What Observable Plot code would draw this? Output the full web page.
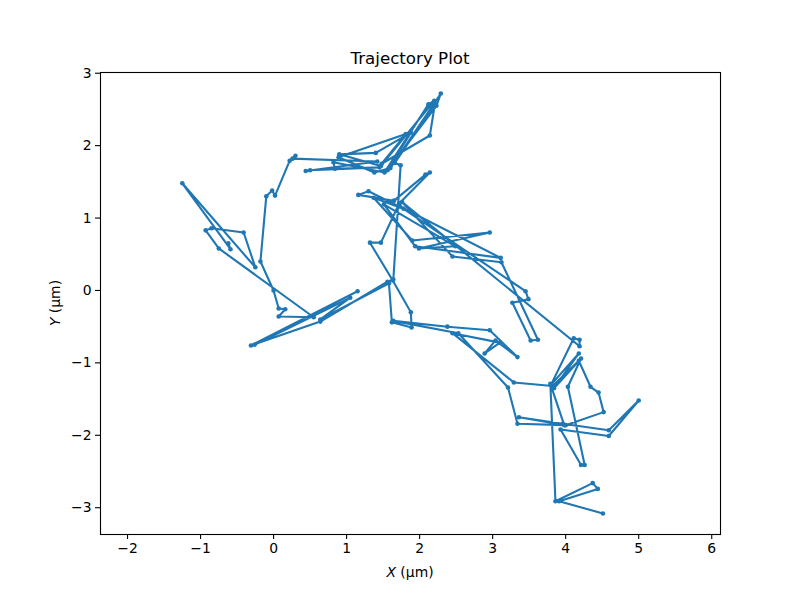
<!DOCTYPE html>
<html>
<head>
<meta charset="utf-8">
<script src="https://cdn.jsdelivr.net/npm/d3@7"></script>
<script src="https://cdn.jsdelivr.net/npm/@observablehq/plot@0.6"></script>
<style>
  body { margin: 0; background: white; }
  #chart { width: 800px; height: 600px; }
</style>
</head>
<body>
<div id="chart"></div>
<script>
const chartTitle = "Trajectory Plot";
const xLabelMain = "X";
const xLabelUnit = " (μm)";
const yLabelMain = "Y";
const yLabelUnit = " (μm)";
const xTicks = [-2, -1, 0, 1, 2, 3, 4, 5, 6];
const yTicks = [-3, -2, -1, 0, 1, 2, 3];

const trajX = [
  -0.62, -0.59, -1.25, -0.25, -0.41, -0.85, -0.93, -0.75, 0.55, 0.07,
  0.16, 0.07, 0.00, -0.18, -0.10, -0.02, 0.02, 0.22, 0.30, 0.26,
  1.42, 0.44, 0.50, 1.45, 0.84, 0.82, 1.52, 2.12, 2.20, 1.47,
  0.90, 1.40, 1.88, 1.56, 2.23, 2.29, 1.60, 1.38, 0.89, 1.81,
  1.48, 2.14, 2.21, 1.66, 1.74, 1.64, 1.56, 0.64, -0.31, 1.15,
  -0.26, 1.05, 0.64, 1.58, 1.62, 1.89, 1.88, 1.63, 1.32, 1.47,
  1.72, 2.14, 2.08, 1.65, 1.16, 1.30, 1.78, 1.37, 1.90, 2.96,
  1.99, 2.49, 1.51, 1.94, 3.11, 1.73, 3.45, 3.49, 3.27, 3.52,
  3.62, 3.12, 2.45, 1.76, 4.19, 4.19, 4.11, 3.80, 4.18, 3.84,
  4.21, 4.03, 4.26, 4.21, 3.93, 4.59, 5.00, 4.59, 3.96, 3.36,
  4.00, 4.52, 4.45, 4.34, 4.18, 3.82, 3.29, 2.45, 3.10, 2.89,
  3.04, 3.34, 2.96, 2.38, 1.64, 2.53, 3.21, 3.34, 3.98, 3.79,
  3.86, 4.37, 4.44, 3.91, 4.51
];
const trajY = [
  0.65, 0.57, 1.48, 0.32, 0.80, 0.86, 0.83, 0.58, -0.37, -0.36,
  -0.26, -0.25, 0.00, 0.40, 1.30, 1.38, 1.31, 1.79, 1.86, 1.82,
  1.78, 1.65, 1.66, 1.70, 1.68, 1.77, 1.63, 2.57, 2.62, 1.72,
  1.88, 1.90, 2.18, 1.66, 2.55, 2.72, 1.69, 1.63, 1.84, 2.16,
  1.75, 2.14, 2.58, 1.76, 1.73, 0.15, 0.12, -0.43, -0.76, -0.01,
  -0.75, -0.10, -0.40, 0.10, -0.44, -0.51, -0.30, 0.14, 0.66, 0.66,
  1.20, 1.63, 1.60, 1.24, 1.32, 1.37, 1.13, 1.28, 0.69, 0.80,
  0.58, 0.61, 1.19, 0.61, 0.45, 1.16, -0.01, -0.12, -0.17, -0.69,
  -0.68, 0.39, 0.47, 1.22, -0.77, -0.68, -0.66, -1.30, -0.87, -1.35,
  -0.94, -1.33, -2.41, -2.41, -1.92, -2.01, -1.52, -1.93, -1.84, -1.75,
  -1.86, -1.68, -1.41, -1.33, -0.97, -1.32, -1.27, -0.59, -0.72, -0.87,
  -0.69, -0.92, -0.55, -0.50, -0.42, -0.59, -1.34, -1.84, -1.86, -1.29,
  -2.91, -2.66, -2.74, -2.91, -3.08
];

const points = trajX.map((x, i) => ({x, y: trajY[i]}));
const fmt = d => (d < 0 ? "\u2212" + (-d) : String(d));
const blue = "#1f77b4";

const W = 800, H = 600, mL = 100, mR = 80, mT = 72, mB = 66;

const plot = Plot.plot({
  width: W, height: H,
  marginLeft: mL, marginRight: mR, marginTop: mT, marginBottom: mB,
  style: {fontFamily: "DejaVu Sans", fontSize: "13.9px", color: "black", background: "white", overflow: "visible"},
  x: {domain: [-2.37, 6.12]},
  y: {domain: [-3.37, 3.01]},
  marks: [
    Plot.line(points, {x: "x", y: "y", stroke: blue, strokeWidth: 2.1, strokeLinejoin: "round", strokeLinecap: "round"}),
    Plot.dot(points, {x: "x", y: "y", r: 2.3, fill: blue, stroke: "none"}),
    Plot.frame({stroke: "black", strokeWidth: 1.1}),
    Plot.axisX({ticks: xTicks, tickFormat: fmt, tickSize: 5, tickPadding: 4, label: null, strokeWidth: 1.1}),
    Plot.axisY({ticks: yTicks, tickFormat: fmt, tickSize: 5, tickPadding: 4, label: null, strokeWidth: 1.1})
  ]
});

document.getElementById("chart").appendChild(plot);

const svg = d3.select(plot);
const cx = mL + (W - mL - mR) / 2;
svg.append("text")
  .attr("x", cx).attr("y", 64)
  .attr("text-anchor", "middle")
  .style("font-size", "16.7px").style("font-family", "DejaVu Sans")
  .attr("fill", "black")
  .text(chartTitle);

const xl = svg.append("text")
  .attr("x", cx).attr("y", 577)
  .attr("text-anchor", "middle")
  .style("font-size", "13.9px").style("font-family", "DejaVu Sans")
  .attr("fill", "black");
xl.append("tspan").style("font-style", "italic").text(xLabelMain);
xl.append("tspan").text(xLabelUnit);

const cy = mT + (H - mT - mB) / 2;
const yl = svg.append("text")
  .attr("transform", `translate(60,${cy}) rotate(-90)`)
  .attr("text-anchor", "middle")
  .style("font-size", "13.9px").style("font-family", "DejaVu Sans")
  .attr("fill", "black");
yl.append("tspan").style("font-style", "italic").text(yLabelMain);
yl.append("tspan").text(yLabelUnit);
</script>
</body>
</html>
